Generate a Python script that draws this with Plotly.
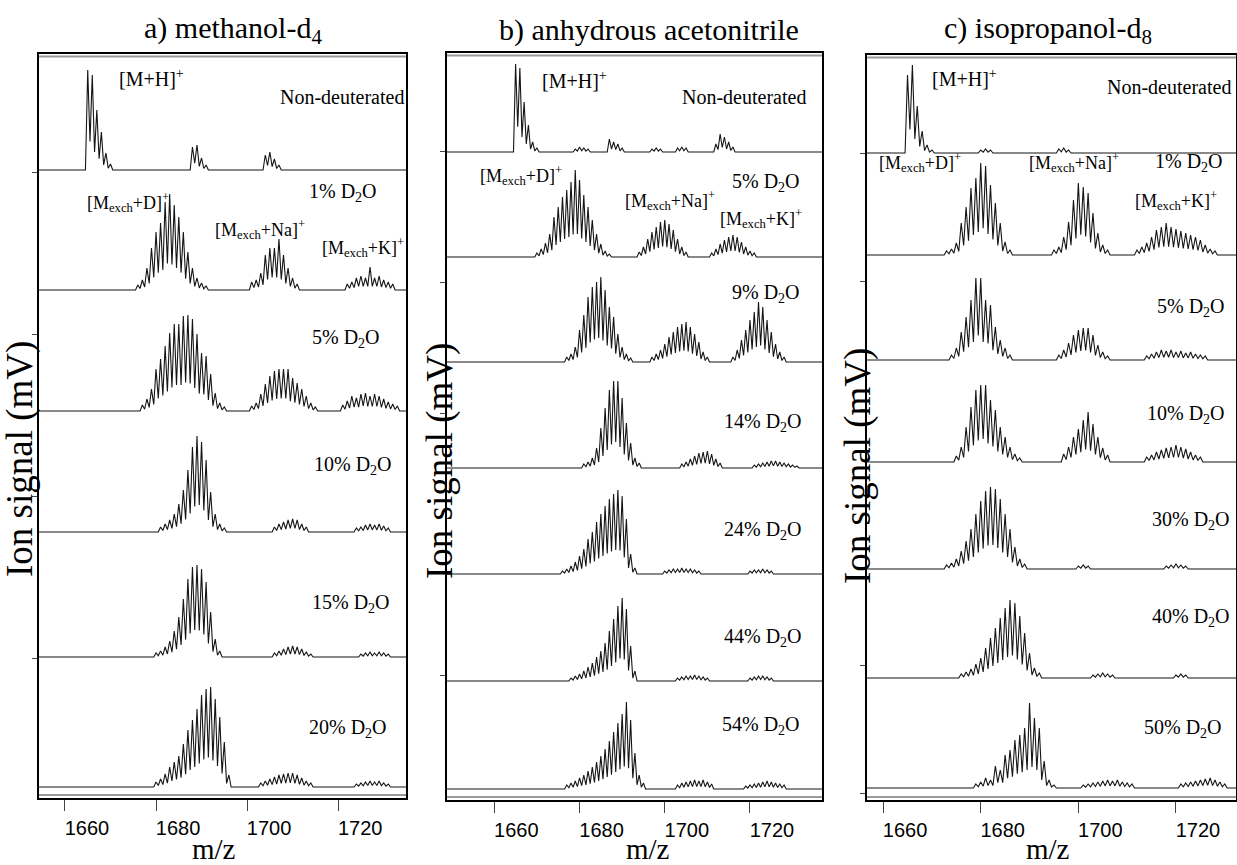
import plotly.graph_objects as go

W, H = 1237, 865

# ---------------- data ----------------
mz_ticks = [1660, 1680, 1700, 1720]
mz_tick_text = ["1660", "1680", "1700", "1720"]

panel_titles = ["a) methanol-d<sub>4</sub>", "b) anhydrous acetonitrile", "c) isopropanol-d<sub>8</sub>"]

a_conditions = ["Non-deuterated", "1% D<sub>2</sub>O", "5% D<sub>2</sub>O", "10% D<sub>2</sub>O",
                "15% D<sub>2</sub>O", "20% D<sub>2</sub>O"]
b_conditions = ["Non-deuterated", "5% D<sub>2</sub>O", "9% D<sub>2</sub>O", "14% D<sub>2</sub>O",
                "24% D<sub>2</sub>O", "44% D<sub>2</sub>O", "54% D<sub>2</sub>O"]
c_conditions = ["Non-deuterated", "1% D<sub>2</sub>O", "5% D<sub>2</sub>O", "10% D<sub>2</sub>O",
                "30% D<sub>2</sub>O", "40% D<sub>2</sub>O", "50% D<sub>2</sub>O"]

ion_labels = ["[M+H]<sup>+</sup>", "[M<sub>exch</sub>+D]<sup>+</sup>",
              "[M<sub>exch</sub>+Na]<sup>+</sup>", "[M<sub>exch</sub>+K]<sup>+</sup>"]

# isotope-peak heights (relative signal) : (first m/z, heights at consecutive integer m/z)
a_nondeut = [(1665, [100, 95, 60, 38, 17, 6]), (1688, [23, 25, 12, 5]), (1704, [15, 18, 11, 5])]
a_1pct = [(1676, [5, 10, 22, 42, 58, 67, 88, 96, 85, 73, 58, 38, 22, 12, 7, 4]),
          (1701, [8, 10, 17, 35, 42, 42, 51, 35, 22, 12, 6]),
          (1722, [6, 8, 12, 14, 12, 23, 12, 14, 10, 8, 6])]
a_5pct = [(1677, [6, 12, 22, 42, 52, 65, 78, 87, 87, 95, 96, 92, 77, 58, 55, 37, 18, 8, 4]),
          (1701, [5, 8, 17, 27, 35, 40, 42, 42, 42, 33, 28, 22, 15, 8, 4]),
          (1721, [6, 10, 15, 13, 17, 18, 15, 17, 15, 12, 9, 7, 5])]
a_10pct = [(1681, [5, 8, 12, 18, 28, 42, 62, 85, 96, 90, 72, 40, 18, 8, 4]),
           (1706, [5, 8, 10, 12, 13, 12, 8, 5]),
           (1724, [4, 5, 7, 8, 7, 8, 6, 4])]
a_15pct = [(1680, [4, 6, 10, 16, 26, 40, 58, 78, 90, 92, 88, 75, 45, 18, 6]),
           (1706, [4, 6, 8, 10, 11, 10, 8, 5, 3]),
           (1725, [3, 4, 5, 4, 5, 4, 3])]
a_20pct = [(1680, [5, 8, 13, 20, 25, 31, 43, 57, 67, 78, 92, 98, 100, 88, 70, 45, 12]),
           (1703, [4, 6, 8, 10, 12, 13, 14, 14, 12, 9, 6, 4]),
           (1724, [3, 4, 5, 6, 5, 6, 4, 3])]

b_nondeut = [(1665, [88, 84, 50, 27, 10, 4]), (1679, [3, 5, 4, 3]), (1687, [13, 10, 8, 4]),
             (1697, [3, 4, 3]), (1703, [4, 5, 4]), (1712, [8, 18, 15, 10, 5])]
b_5pct = [(1670, [4, 8, 14, 23, 40, 50, 60, 67, 75, 87, 77, 62, 50, 37, 23, 13, 6, 3]),
          (1694, [5, 10, 18, 25, 30, 35, 37, 33, 27, 18, 10, 5]),
          (1711, [4, 8, 13, 17, 20, 22, 20, 15, 10, 6, 4])]
b_9pct = [(1677, [5, 8, 15, 32, 47, 65, 75, 80, 85, 72, 55, 45, 28, 15, 8, 4]),
          (1697, [5, 8, 12, 18, 25, 30, 35, 38, 40, 35, 28, 20, 10, 5]),
          (1716, [5, 12, 22, 32, 42, 50, 60, 55, 42, 30, 18, 10, 5])]
b_14pct = [(1681, [4, 6, 10, 20, 40, 60, 78, 87, 87, 70, 45, 25, 10, 5]),
           (1704, [4, 6, 9, 12, 15, 16, 17, 14, 9, 5]),
           (1721, [3, 4, 5, 6, 7, 7, 6, 5, 4, 3, 2])]
b_24pct = [(1676, [3, 5, 8, 12, 18, 25, 35, 42, 52, 60, 68, 75, 80, 84, 78, 55, 20, 6]),
           (1700, [3, 4, 5, 5, 6, 5, 5, 4, 3]),
           (1720, [3, 4, 4, 5, 4, 3])]
b_44pct = [(1678, [3, 5, 7, 10, 14, 18, 24, 30, 38, 50, 62, 75, 83, 72, 35, 10]),
           (1703, [3, 4, 5, 5, 6, 5, 4, 3]),
           (1720, [3, 4, 5, 5, 4, 3])]
b_54pct = [(1677, [4, 6, 8, 11, 14, 18, 22, 27, 33, 40, 48, 57, 66, 75, 87, 69, 36, 14, 6]),
           (1703, [4, 6, 7, 8, 9, 8, 9, 7, 5]),
           (1719, [3, 4, 5, 6, 7, 8, 7, 6, 5, 4])]

c_nondeut = [(1665, [78, 88, 47, 22, 8, 3]), (1680, [3, 4, 3]), (1696, [4, 5, 3])]
c_1pct = [(1673, [4, 6, 12, 32, 48, 67, 77, 92, 89, 70, 52, 32, 13, 5]),
          (1695, [5, 8, 18, 33, 55, 72, 68, 62, 42, 22, 10, 5]),
          (1712, [5, 8, 12, 18, 25, 28, 32, 28, 26, 24, 22, 20, 18, 15, 10, 6, 4])]
c_5pct = [(1674, [5, 12, 28, 43, 60, 82, 82, 60, 55, 33, 20, 12, 5]),
          (1696, [5, 10, 17, 25, 30, 32, 32, 25, 15, 8, 4]),
          (1714, [4, 6, 8, 10, 9, 10, 8, 9, 7, 8, 6, 5, 4])]
c_10pct = [(1675, [6, 15, 35, 55, 72, 77, 77, 62, 52, 35, 25, 15, 8, 4]),
           (1697, [8, 15, 25, 33, 42, 50, 38, 25, 14, 7]),
           (1714, [5, 7, 10, 12, 14, 15, 17, 15, 13, 10, 7, 5])]
c_30pct = [(1673, [4, 6, 10, 18, 28, 40, 55, 68, 78, 82, 80, 70, 55, 40, 22, 10, 5]),
           (1700, [3, 4, 3]), (1718, [3, 4, 5, 4, 3])]
c_40pct = [(1676, [4, 6, 9, 14, 20, 30, 40, 50, 60, 70, 78, 75, 62, 45, 25, 10, 5]),
           (1703, [3, 4, 5, 4, 3]), (1720, [3, 4, 3])]
c_50pct = [(1679, [4, 6, 10, 8, 22, 18, 33, 38, 48, 53, 60, 85, 70, 60, 27, 8, 3]),
           (1701, [3, 4, 5, 6, 7, 8, 7, 8, 6, 5, 4]),
           (1721, [4, 5, 6, 7, 8, 9, 10, 8, 6, 4])]

a_spectra = [a_nondeut, a_1pct, a_5pct, a_10pct, a_15pct, a_20pct]
b_spectra = [b_nondeut, b_5pct, b_9pct, b_14pct, b_24pct, b_44pct, b_54pct]
c_spectra = [c_nondeut, c_1pct, c_5pct, c_10pct, c_30pct, c_40pct, c_50pct]

# ---------------- layout (pixel geometry) ----------------
panels = [
    dict(spectra=a_spectra, conds=a_conditions, title=panel_titles[0],
         x0=39, x1=406, top=54, bot=798, xr=(1654.3, 1734.9),
         base=[170, 290, 411, 532, 657, 787], ytick0=172, ystep=162,
         cond_pos=[(406, 97, "right"), (307, 193, "left"), (310, 338, "left"), (312, 465, "left"),
                   (310, 603, "left"), (307, 728, "left")],
         ion_pos=[(117, 78), (85, 202), (213, 230), (320, 247)],
         title_x=233, ylab_x=20, ylab_y=459, mz_x=214),
    dict(spectra=b_spectra, conds=b_conditions, title=panel_titles[1],
         x0=447, x1=822, top=53, bot=800, xr=(1648.9, 1736.9),
         base=[152, 257, 362, 468, 574, 681, 789], ytick0=151, ystep=131,
         cond_pos=[(808, 97, "right"), (730, 182, "left"), (730, 293, "left"), (722, 423, "left"),
                   (722, 530, "left"), (722, 637, "left"), (720, 725, "left")],
         ion_pos=[(540, 80), (478, 175), (623, 200), (718, 218)],
         title_x=649, ylab_x=440, ylab_y=461, mz_x=648),
    dict(spectra=c_spectra, conds=c_conditions, title=panel_titles[2],
         x0=867, x1=1236, top=55, bot=800, xr=(1656.7, 1732.3),
         base=[153, 255, 360, 462, 569, 678, 788], ytick0=153, ystep=128,
         cond_pos=[(1233, 87, "right"), (1153, 163, "left"), (1155, 307, "left"), (1145, 415, "left"),
                   (1150, 520, "left"), (1150, 617, "left"), (1142, 728, "left")],
         ion_pos=[(930, 78), (877, 163), (1027, 163), (1133, 200)],
         title_x=1048, ylab_x=858, ylab_y=466, mz_x=1048),
]

VALLEY = 0.3
SERIF = "Liberation Serif"
SANS = "Liberation Sans"


def profile(clusters, lo, hi):
    h = {}
    for start, vals in clusters:
        for i, v in enumerate(vals):
            h[start + i] = v
    xs, ys = [], []
    for m in range(lo, hi + 1):
        xs.append(m)
        ys.append(h.get(m, 0))
        xs.append(m + 0.5)
        ys.append(VALLEY * min(h.get(m, 0), h.get(m + 1, 0)))
    return xs, ys


def px(x):
    return x / W


def py(y):
    return 1 - y / H


fig = go.Figure()
annotations = []
shapes = []
layout_axes = {}

for i, p in enumerate(panels):
    n = i + 1
    xa = "x" if n == 1 else f"x{n}"
    ya = "y" if n == 1 else f"y{n}"
    height = p["bot"] - p["top"]
    lo, hi = int(p["xr"][0]) - 1, int(p["xr"][1]) + 1
    for k, spec in enumerate(p["spectra"]):
        off = p["bot"] - p["base"][k]
        xs, ys = profile(spec, lo, hi)
        fig.add_trace(go.Scatter(x=xs, y=[off + v for v in ys], mode="lines",
                                 line=dict(color="#151515", width=1.1), xaxis=xa, yaxis=ya,
                                 showlegend=False, hoverinfo="skip"))
    yt = [p["bot"] - p["ytick0"] - p["ystep"] * j for j in range(6)]
    yt = [v for v in yt if v > 0]
    layout_axes[("xaxis" if n == 1 else f"xaxis{n}")] = dict(
        domain=[px(p["x0"]), px(p["x1"])], range=list(p["xr"]), anchor=ya,
        tickvals=mz_ticks, ticktext=mz_tick_text, ticks="outside", ticklen=11,
        tickcolor="#444", tickwidth=1, showline=True, linecolor="black", linewidth=1.5,
        mirror=True, showgrid=False, zeroline=False, ticklabelshift=22,
        tickfont=dict(family=SANS, size=20, color="black"))
    layout_axes[("yaxis" if n == 1 else f"yaxis{n}")] = dict(
        domain=[py(p["bot"]), py(p["top"])], range=[0, height], anchor=xa,
        tickvals=yt, showticklabels=False, ticks="outside", ticklen=5, tickcolor="#444",
        showline=True, linecolor="black", linewidth=1.5, mirror=True, showgrid=False,
        zeroline=False)
    # double grey edge lines at top and bottom
    for yy in (p["top"] + 2.5, p["bot"] - 3):
        shapes.append(dict(type="line", xref="paper", yref="paper", x0=px(p["x0"]), x1=px(p["x1"]),
                           y0=py(yy), y1=py(yy), line=dict(color="#9a9a9a", width=2)))
    # title
    annotations.append(dict(text=p["title"], x=px(p["title_x"]), y=py(30), xref="paper", yref="paper",
                            showarrow=False, xanchor="center", yanchor="middle",
                            font=dict(family=SERIF, size=30, color="black")))
    # y title
    annotations.append(dict(text="Ion signal (mV)", x=px(p["ylab_x"]), y=py(p["ylab_y"]), xref="paper",
                            yref="paper", showarrow=False, textangle=-90, xanchor="center",
                            yanchor="middle", font=dict(family=SERIF, size=37, color="black")))
    # x title
    annotations.append(dict(text="m/z", x=px(p["mz_x"]), y=py(849), xref="paper", yref="paper",
                            showarrow=False, xanchor="center", yanchor="middle",
                            font=dict(family=SERIF, size=29, color="black")))
    # condition labels
    for (cx, cy, anc), txt in zip(p["cond_pos"], p["conds"]):
        annotations.append(dict(text=txt, x=px(cx), y=py(cy), xref="paper", yref="paper",
                                showarrow=False, xanchor=anc, yanchor="middle",
                                font=dict(family=SERIF, size=20, color="black")))
    # ion labels
    for (ix, iy), txt in zip(p["ion_pos"], ion_labels):
        annotations.append(dict(text=txt, x=px(ix), y=py(iy), xref="paper", yref="paper",
                                showarrow=False, xanchor="left", yanchor="middle",
                                font=dict(family=SERIF, size=18 if "exch" in txt else 20,
                                          color="black")))

fig.update_layout(width=W, height=H, margin=dict(l=0, r=0, t=0, b=0),
                  paper_bgcolor="white", plot_bgcolor="white",
                  annotations=annotations, shapes=shapes, **layout_axes)

fig.write_html("out.html", config={"displayModeBar": False},
               post_script="document.body.style.margin='0';")
